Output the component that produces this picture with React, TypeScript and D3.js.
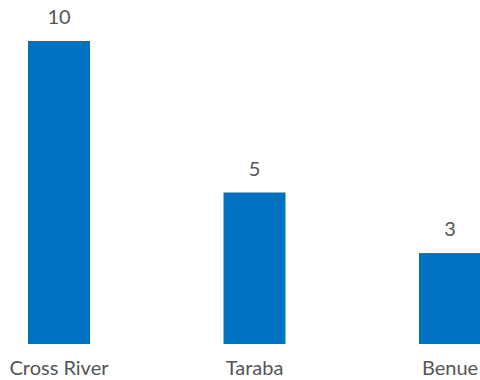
import React from "react";
import * as d3 from "d3";

const categories = ["Cross River", "Taraba", "Benue"];
const values = [10, 5, 3];

const W = 480;
const H = 380;

export default function App() {
  if (typeof document !== "undefined") document.body.style.margin = "0";
  const x = d3
    .scaleBand<string>()
    .domain(categories)
    .range([-38.75, 547.75])
    .paddingInner(0.683)
    .paddingOuter(0.3415);
  const y = d3.scaleLinear().domain([0, 10]).range([344, 41]);
  const font = "Lato, 'Open Sans', sans-serif";
  return (
    <svg width={W} height={H} style={{ display: "block" }}>
      <rect width={W} height={H} fill="#ffffff" />
      {categories.map((c, i) => {
        const bx = x(c)!;
        const cx = bx + x.bandwidth() / 2;
        return (
          <g key={c}>
            <rect x={bx} y={y(values[i])} width={x.bandwidth()} height={y(0) - y(values[i])} fill="#0070C0" />
            <text x={cx} y={y(values[i]) - 17} textAnchor="middle" fontFamily={font} fontSize={20} fill="#555555">
              {values[i]}
            </text>
            <text x={cx} y={375} textAnchor="middle" fontFamily={font} fontSize={20} fill="#555555">
              {c}
            </text>
          </g>
        );
      })}
    </svg>
  );
}
